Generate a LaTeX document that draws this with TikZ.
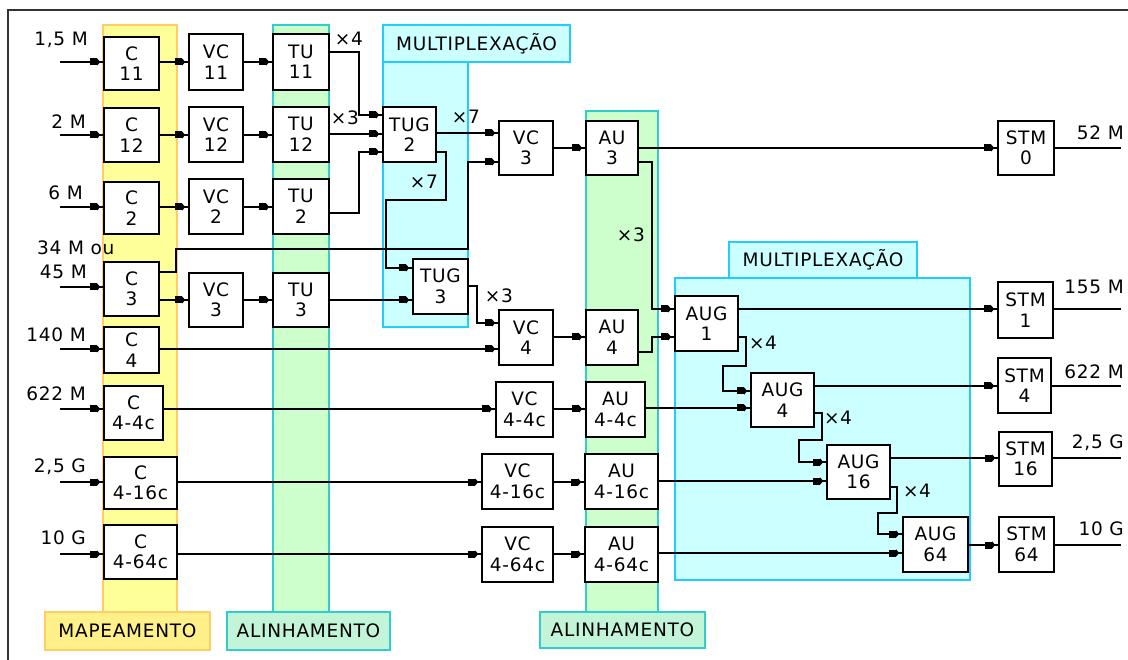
\documentclass[tikz,border=0pt]{standalone}
\usepackage{fontspec}
\setmainfont{DejaVu Sans}[LetterSpace=4]
\usetikzlibrary{arrows.meta}
\definecolor{yfill}{HTML}{FFFF99}
\definecolor{ydraw}{HTML}{FFCC66}
\definecolor{ylab}{HTML}{FFF08A}
\definecolor{gfill}{HTML}{CCFFCC}
\definecolor{gdraw}{HTML}{33CCCC}
\definecolor{glab}{HTML}{C2F5D8}
\definecolor{cfill}{HTML}{CCFFFF}
\definecolor{cdraw}{HTML}{22CCFF}
\definecolor{frame}{HTML}{333333}
\begin{document}
\begin{tikzpicture}[x=1pt,y=-1pt,
  txt/.style={font=\fontsize{18.5}{20}\selectfont, inner sep=0pt},
  box/.style={draw=black, line width=1.7pt, fill=white, inner sep=0pt, align=center,
    font=\fontsize{18.5}{20.5}\selectfont},
  ybandst/.style={fill=yfill, draw=ydraw, line width=1.2pt},
  ylabst/.style={fill=ylab, draw=ydraw, line width=1.2pt},
  gbandst/.style={fill=gfill, draw=gdraw, line width=1.2pt},
  glabst/.style={fill=glab, draw=gdraw, line width=1.2pt},
  cbandst/.style={fill=cfill, draw=cdraw, line width=1.2pt},
  wire/.style={draw=black, line width=1.7pt},
  arr/.style={wire, postaction={draw, shorten >=3pt,
     -{Rectangle[length=7pt,width=7pt] Triangle[length=3pt,width=7pt]}}}
]
\useasboundingbox (0,0) rectangle (1128,660);
\fill[white] (0,0) rectangle (1128,660);
\draw[frame, line width=2pt] (8,660) -- (8,10) -- (1128,10);

% bands and labels
\draw[ybandst] (103,25) rectangle (177,612);
\node[ylabst, minimum width=165pt, minimum height=38pt, txt] (lmap) at (127.5,631) {MAPEAMENTO};
\draw[gbandst] (273,25) rectangle (329,612);
\node[glabst, minimum width=163pt, minimum height=38pt, txt] (lal1) at (308.5,631) {ALINHAMENTO};
\draw[gbandst] (586,111) rectangle (658,612);
\node[glabst, minimum width=165pt, minimum height=36pt, txt] (lal2) at (622.5,630) {ALINHAMENTO};
\draw[cbandst] (383,62) rectangle (468,327);
\node[cbandst, minimum width=187pt, minimum height=37pt, txt] (lmux1) at (476.5,43.5) {MULTIPLEXAÇÃO};
\draw[cbandst] (675,278) rectangle (970,580);
\node[cbandst, minimum width=188pt, minimum height=36pt, txt] (lmux2) at (823,260) {MULTIPLEXAÇÃO};

% boxes: C column
\node[box, minimum width=55pt, minimum height=53pt] (C11) at (131.5,63.5) {C\\11};
\node[box, minimum width=55pt, minimum height=54pt] (C12) at (131.5,135) {C\\12};
\node[box, minimum width=55pt, minimum height=52pt] (C2) at (131.5,208) {C\\2};
\node[box, minimum width=55pt, minimum height=54pt] (C3) at (131.5,289) {C\\3};
\node[box, minimum width=55pt, minimum height=46pt] (C4) at (131.5,350) {C\\4};
\node[box, minimum width=59pt, minimum height=54pt] (C44) at (133.5,413) {C\\4-4c};
\node[box, minimum width=73pt, minimum height=52pt] (C416) at (140.5,483) {C\\4-16c};
\node[box, minimum width=73pt, minimum height=54pt] (C464) at (140.5,552) {C\\4-64c};
% VC left column
\node[box, minimum width=54pt, minimum height=56pt] (VC11) at (216,62) {VC\\11};
\node[box, minimum width=54pt, minimum height=55pt] (VC12) at (216,134.5) {VC\\12};
\node[box, minimum width=54pt, minimum height=55pt] (VC2) at (216,206.5) {VC\\2};
\node[box, minimum width=54pt, minimum height=54pt] (VC3L) at (216,300) {VC\\3};
% TU column
\node[box, minimum width=56pt, minimum height=56pt] (TU11) at (301,62) {TU\\11};
\node[box, minimum width=56pt, minimum height=55pt] (TU12) at (301,134.5) {TU\\12};
\node[box, minimum width=56pt, minimum height=55pt] (TU2) at (301,206.5) {TU\\2};
\node[box, minimum width=56pt, minimum height=54pt] (TU3) at (301,300) {TU\\3};
% TUG
\node[box, minimum width=53pt, minimum height=55pt] (TUG2) at (409.5,134.5) {TUG\\2};
\node[box, minimum width=55pt, minimum height=55pt] (TUG3) at (440.5,286.5) {TUG\\3};
% VC right column
\node[box, minimum width=54pt, minimum height=54pt] (VC3) at (526,148) {VC\\3};
\node[box, minimum width=54pt, minimum height=55pt] (VC4) at (526,337.5) {VC\\4};
\node[box, minimum width=57pt, minimum height=55pt] (VC44) at (524.5,409.5) {VC\\4-4c};
\node[box, minimum width=71pt, minimum height=55pt] (VC416) at (517.5,481.5) {VC\\4-16c};
\node[box, minimum width=71pt, minimum height=55pt] (VC464) at (517.5,554.5) {VC\\4-64c};
% AU column
\node[box, minimum width=52pt, minimum height=54pt] (AU3) at (612,148) {AU\\3};
\node[box, minimum width=52pt, minimum height=55pt] (AU4) at (612,337.5) {AU\\4};
\node[box, minimum width=59pt, minimum height=55pt] (AU44) at (615.5,409.5) {AU\\4-4c};
\node[box, minimum width=73pt, minimum height=55pt] (AU416) at (621.5,481.5) {AU\\4-16c};
\node[box, minimum width=73pt, minimum height=55pt] (AU464) at (621.5,554.5) {AU\\4-64c};
% AUG
\node[box, minimum width=63pt, minimum height=55pt] (AUG1) at (706.5,323.5) {AUG\\1};
\node[box, minimum width=63pt, minimum height=54pt] (AUG4) at (782.5,400) {AUG\\4};
\node[box, minimum width=63pt, minimum height=54pt] (AUG16) at (858.5,472) {AUG\\16};
\node[box, minimum width=65pt, minimum height=55pt] (AUG64) at (935.5,544.5) {AUG\\64};
% STM
\node[box, minimum width=56pt, minimum height=54pt] (STM0) at (1026,148) {STM\\0};
\node[box, minimum width=55pt, minimum height=56pt] (STM1) at (1025.5,310) {STM\\1};
\node[box, minimum width=53pt, minimum height=55pt] (STM4) at (1024.5,385.5) {STM\\4};
\node[box, minimum width=53pt, minimum height=54pt] (STM16) at (1025.5,459) {STM\\16};
\node[box, minimum width=55pt, minimum height=55pt] (STM64) at (1026.5,544.5) {STM\\64};

% input coordinates
\coordinate (i1) at (60,62);
\coordinate (i2) at (60,135);
\coordinate (i3) at (60,207);
\coordinate (i4) at (60,287);
\coordinate (i5) at (60,349);
\coordinate (i6) at (60,409);
\coordinate (i7) at (60,482);
\coordinate (i8) at (60,554);
\coordinate (o0) at (1121,148);
\coordinate (o1) at (1121,309);
\coordinate (o4) at (1121,386);
\coordinate (o16) at (1121,458);
\coordinate (o64) at (1121,545);

% input labels
\node[txt, anchor=east] (t1) at (88,40) {1,5 M};
\node[txt, anchor=east] (t2) at (86,122) {2 M};
\node[txt, anchor=east] (t3) at (83,193) {6 M};
\node[txt, anchor=west] (t4a) at (37,248) {34 M ou};
\node[txt, anchor=east] (t4b) at (87,272) {45 M};
\node[txt, anchor=east] (t5) at (86,335) {140 M};
\node[txt, anchor=east] (t6) at (86,394) {622 M};
\node[txt, anchor=east] (t7) at (86,467) {2,5 G};
\node[txt, anchor=east] (t8) at (86,538) {10 G};
% output labels
\node[txt, anchor=east] (r0) at (1124,133) {52 M};
\node[txt, anchor=east] (r1) at (1124,287) {155 M};
\node[txt, anchor=east] (r4) at (1124,372) {622 M};
\node[txt, anchor=east] (r16) at (1124,443) {2,5 G};
\node[txt, anchor=east] (r64) at (1124,529) {10 G};
% multiplicity labels
\node[txt] (m1) at (349,39) {×4};
\node[txt] (m2) at (345,118) {×3};
\node[txt] (m3) at (466,117) {×7};
\node[txt] (m4) at (424,182) {×7};
\node[txt] (m5) at (499,296) {×3};
\node[txt] (m6) at (631,235) {×3};
\node[txt] (m7) at (763,343) {×4};
\node[txt] (m8) at (838,418) {×4};
\node[txt] (m9) at (917,491) {×4};

% row connections
\draw[arr] (i1) -- (i1 -| C11.west);
\draw[arr] (C11.east |- i1) -- (i1 -| VC11.west);
\draw[arr] (VC11.east |- i1) -- (i1 -| TU11.west);
\draw[arr] (i2) -- (i2 -| C12.west);
\draw[arr] (C12.east |- i2) -- (i2 -| VC12.west);
\draw[arr] (VC12.east |- i2) -- (i2 -| TU12.west);
\draw[arr] (i3) -- (i3 -| C2.west);
\draw[arr] (C2.east |- i3) -- (i3 -| VC2.west);
\draw[arr] (VC2.east |- i3) -- (i3 -| TU2.west);

% TU to TUG2
\draw[arr] (TU11.east |- 0,52) -| (359,115) -- (TUG2.west |- 0,115);
\draw[arr] (TU12.east |- 0,134) -- (TUG2.west |- 0,134);
\draw[arr] (TU2.east |- 0,213) -| (359,152) -- (TUG2.west |- 0,152);
% TUG2 outputs
\draw[arr] (TUG2.east |- 0,133) -- (VC3.west |- 0,133);
\draw[arr] (TUG2.east |- 0,152) -| (446,200) -| (386,268) -- (TUG3.west |- 0,268);

% C3 row
\draw[arr] (i4) -- (i4 -| C3.west);
\draw[arr] (C3.east |- 0,272) -| (176,249) -| (468,162) -- (VC3.west |- 0,162);
\draw[arr] (C3.east |- 0,300) -- (VC3L.west |- 0,300);
\draw[arr] (VC3L.east |- 0,300) -- (TU3.west |- 0,300);
\draw[arr] (TU3.east |- 0,300) -- (TUG3.west |- 0,300);
\draw[arr] (TUG3.east |- 0,286) -| (477,323) -- (VC4.west |- 0,323);

% VC3 / AU3 / STM0
\draw[arr] (VC3.east) -- (VC3.east -| AU3.west);
\draw[arr] (AU3.east) -- (AU3.east -| STM0.west);
\draw[wire] (STM0.east) -- (o0);
\draw[arr] (AU3.east |- 0,162) -| (652,309) -- (AUG1.west |- 0,309);

% C4 row
\draw[arr] (i5) -- (i5 -| C4.west);
\draw[arr] (C4.east |- i5) -- (i5 -| VC4.west);
\draw[arr] (VC4.east |- 0,337) -- (AU4.west |- 0,337);
\draw[arr] (AU4.east |- 0,352) -| (652,337) -- (AUG1.west |- 0,337);

% C4-4c row
\draw[arr] (i6) -- (i6 -| C44.west);
\draw[arr] (C44.east |- i6) -- (i6 -| VC44.west);
\draw[arr] (VC44.east |- i6) -- (i6 -| AU44.west);
\draw[arr] (AU44.east |- 0,408) -- (AUG4.west |- 0,408);

% C4-16c row
\draw[arr] (i7) -- (i7 -| C416.west);
\draw[arr] (C416.east |- i7) -- (i7 -| VC416.west);
\draw[arr] (VC416.east |- i7) -- (i7 -| AU416.west);
\draw[arr] (AU416.east |- 0,481) -- (AUG16.west |- 0,481);

% C4-64c row
\draw[arr] (i8) -- (i8 -| C464.west);
\draw[arr] (C464.east |- i8) -- (i8 -| VC464.west);
\draw[arr] (VC464.east |- i8) -- (i8 -| AU464.west);
\draw[arr] (AU464.east |- 0,553) -- (AUG64.west |- 0,553);

% AUG chain
\draw[arr] (AUG1.east |- 0,309) -- (STM1.west |- 0,309);
\draw[wire] (STM1.east |- o1) -- (o1);
\draw[arr] (AUG1.east |- 0,337) -| (746,366) -| (723,391) -- (AUG4.west |- 0,391);
\draw[arr] (AUG4.east |- 0,386) -- (STM4.west |- 0,386);
\draw[wire] (STM4.east |- o4) -- (o4);
\draw[arr] (AUG4.east |- 0,413) -| (822,440) -| (799,462) -- (AUG16.west |- 0,462);
\draw[arr] (AUG16.east |- 0,458) -- (STM16.west |- 0,458);
\draw[wire] (STM16.east |- o16) -- (o16);
\draw[arr] (AUG16.east |- 0,487) -| (897,513) -| (878,534) -- (AUG64.west |- 0,534);
\draw[arr] (AUG64.east |- 0,545) -- (STM64.west |- 0,545);
\draw[wire] (STM64.east |- o64) -- (o64);
\end{tikzpicture}
\end{document}
